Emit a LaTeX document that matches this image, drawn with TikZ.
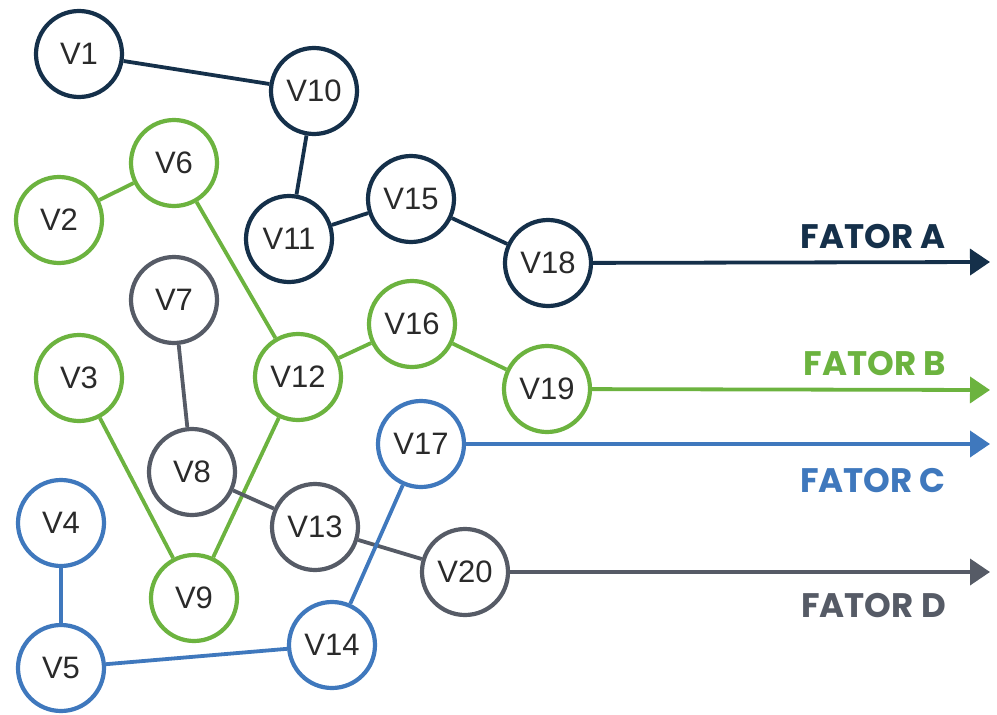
\documentclass[tikz,border=0pt]{standalone}
\usepackage{fontspec}
\setmainfont{Liberation Sans}
\newfontfamily\labfont{Poppins}
\usetikzlibrary{arrows.meta}
\definecolor{cnavy}{HTML}{15304A}
\definecolor{cgreen}{HTML}{6CB33F}
\definecolor{cblue}{HTML}{3F78BD}
\definecolor{cgray}{HTML}{565B66}
\definecolor{ctext}{HTML}{2A2A2A}
\tikzset{
  vnode/.style={circle, draw=#1, line width=4.2pt, minimum size=86pt, inner sep=0pt, fill=white, text=ctext, font=\fontsize{31}{33}\selectfont},
  edge/.style={draw=#1, line width=3.8pt},
  farrow/.style={draw=#1, line width=3.8pt, -{Triangle[length=20pt,width=26pt]}},
  flabel/.style={text=#1, anchor=east, inner sep=0pt, font=\labfont\bfseries\fontsize{34}{36}\selectfont},
}
\begin{document}
\begin{tikzpicture}[x=1pt,y=-1pt]
\useasboundingbox[fill=white] (0,0) rectangle (997,715);
\coordinate (eA) at (990,262);
\coordinate (eB) at (990,390);
\coordinate (eC) at (990,444);
\coordinate (eD) at (990,572);
\node[vnode=cnavy] (V1) at (79,54) {V1};
\node[vnode=cnavy] (V10) at (314,91) {V10};
\node[vnode=cnavy] (V11) at (289,239) {V11};
\node[vnode=cnavy] (V15) at (411,199) {V15};
\node[vnode=cnavy] (V18) at (548,263) {V18};
\node[vnode=cgreen] (V6) at (174,163) {V6};
\node[vnode=cgreen] (V2) at (59,220) {V2};
\node[vnode=cgreen] (V3) at (79,378) {V3};
\node[vnode=cgreen] (V12) at (298,377) {V12};
\node[vnode=cgreen] (V16) at (412,324) {V16};
\node[vnode=cgreen] (V19) at (547,389) {V19};
\node[vnode=cgreen] (V9) at (194,598) {V9};
\node[vnode=cgray] (V7) at (174,300) {V7};
\node[vnode=cgray] (V8) at (192,472) {V8};
\node[vnode=cgray] (V13) at (315,527) {V13};
\node[vnode=cgray] (V20) at (465,572) {V20};
\node[vnode=cblue] (V4) at (61,523) {V4};
\node[vnode=cblue] (V5) at (61,668) {V5};
\node[vnode=cblue] (V14) at (332,645) {V14};
\node[vnode=cblue] (V17) at (421,444) {V17};
% connectors
\draw[edge=cnavy] (V1) -- (V10);
\draw[edge=cnavy] (V10) -- (V11);
\draw[edge=cnavy] (V11) -- (V15);
\draw[edge=cnavy] (V15) -- (V18);
\draw[farrow=cnavy] (V18) -- (eA);
\draw[edge=cgreen] (V2) -- (V6);
\draw[edge=cgreen] (V6) -- (V12);
\draw[edge=cgreen] (V12) -- (V16);
\draw[edge=cgreen] (V16) -- (V19);
\draw[edge=cgreen] (V3) -- (V9);
\draw[edge=cgreen] (V9) -- (V12);
\draw[farrow=cgreen] (V19) -- (eB);
\draw[edge=cgray] (V7) -- (V8);
\draw[edge=cgray] (V8) -- (V13);
\draw[edge=cgray] (V13) -- (V20);
\draw[farrow=cgray] (V20) -- (eD);
\draw[edge=cblue] (V4) -- (V5);
\draw[edge=cblue] (V5) -- (V14);
\draw[edge=cblue] (V14) -- (V17);
\draw[farrow=cblue] (V17) -- (eC);
% labels
\node[flabel=cnavy] (LA) at (946,237) {FATOR A};
\node[flabel=cgreen] (LB) at (946,364) {FATOR B};
\node[flabel=cblue] (LC) at (946,481) {FATOR C};
\node[flabel=cgray] (LD) at (946,606) {FATOR D};
\end{tikzpicture}
\end{document}
